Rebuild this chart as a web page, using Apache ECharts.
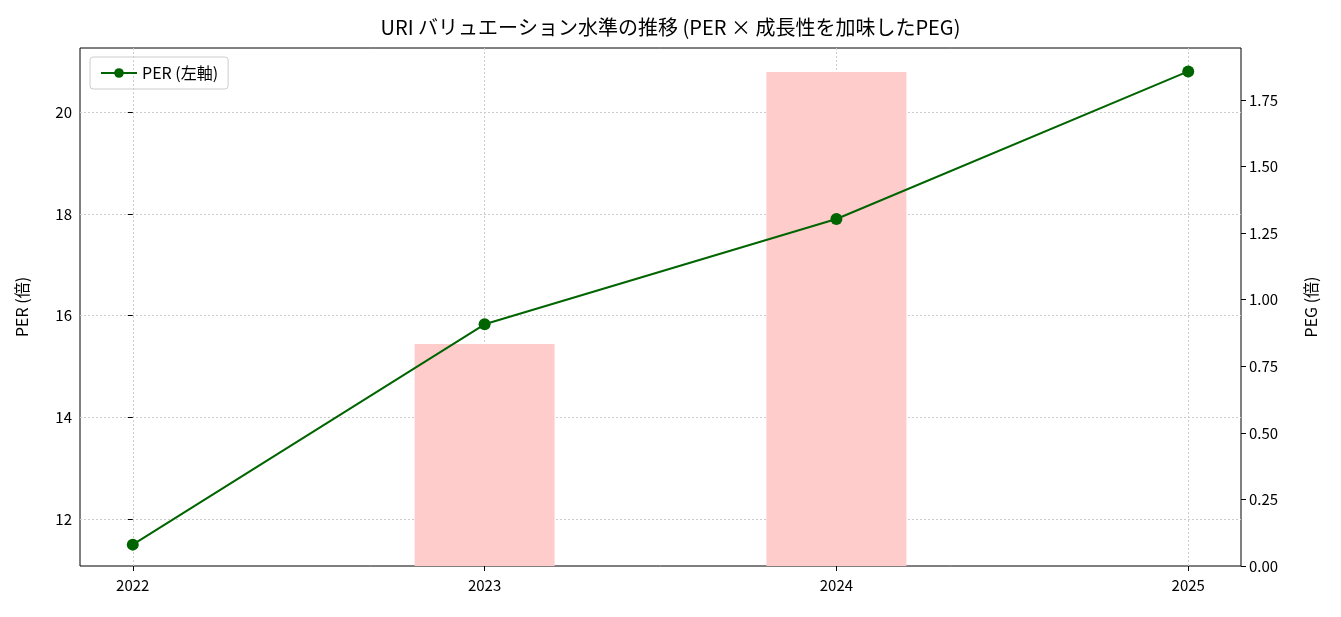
<!DOCTYPE html>
<html lang="ja">
<head>
<meta charset="UTF-8">
<title>URI PER PEG</title>
<style>
  * { margin: 0; }
  body { background: #fff; }
  #main { width: 1341px; height: 617px; }
</style>
<script src="https://cdn.jsdelivr.net/npm/echarts@6/dist/echarts.min.js"></script>
</head>
<body>
<div id="main"></div>
<script>
var years = ['2022', '2023', '2024', '2025'];
var perValues = [11.5, 15.83, 17.9, 20.8];
var pegValues = [null, 0.834, 1.855, null];
var perTicks = [12, 14, 16, 18, 20];
var pegTicks = [0, 0.25, 0.5, 0.75, 1, 1.25, 1.5, 1.75];

var font = '"Noto Sans CJK JP", "DejaVu Sans", sans-serif';
var chart = echarts.init(document.getElementById('main'));

var perData = perValues.map(function (v, i) { return [i, v]; });
var pegData = [];
pegValues.forEach(function (v, i) { if (v !== null) pegData.push([i, v]); });

chart.setOption({
  animation: false,
  textStyle: { fontFamily: font },
  title: {
    text: 'URI バリュエーション水準の推移 (PER × 成長性を加味したPEG)',
    left: 'center', top: 12,
    textStyle: { fontFamily: font, fontSize: 20, fontWeight: 'normal', color: '#000' }
  },
  legend: {
    left: 90, top: 57,
    padding: [8, 10],
    borderColor: '#ccc', borderWidth: 1, borderRadius: 3,
    itemWidth: 36, itemHeight: 12,
    textStyle: { fontFamily: font, fontSize: 16, color: '#000' },
    data: ['PER (左軸)']
  },
  grid: {
    left: 80, right: 100, top: 48, bottom: 51,
    show: true, borderColor: '#000', borderWidth: 1
  },
  xAxis: {
    type: 'value', min: -0.15, max: 3.15,
    axisLine: { show: false },
    axisTick: { customValues: [0, 1, 2, 3], length: 5, lineStyle: { color: '#000' } },
    axisLabel: {
      customValues: [0, 1, 2, 3], color: '#000', fontSize: 15, margin: 12,
      formatter: function (v) { return years[Math.round(v)]; }
    },
    splitLine: { show: true, lineStyle: { color: '#ccc', type: [2, 2] } }
  },
  yAxis: [{
    type: 'value', min: 11.08, max: 21.26,
    name: 'PER (倍)', nameLocation: 'middle', nameGap: 50,
    nameTextStyle: { fontSize: 16, color: '#000' },
    axisLine: { show: false },
    axisTick: { customValues: perTicks, length: 5, lineStyle: { color: '#000' } },
    axisLabel: { customValues: perTicks, color: '#000', fontSize: 15 },
    splitLine: { show: true, lineStyle: { color: '#ccc', type: [2, 2] } }
  }, {
    type: 'value', min: 0, max: 1.945, position: 'right',
    name: 'PEG (倍)', nameLocation: 'middle', nameGap: 62, nameRotate: 90,
    nameTextStyle: { fontSize: 16, color: '#000' },
    axisLine: { show: false },
    axisTick: { show: true, customValues: pegTicks, length: 5, lineStyle: { color: '#000' } },
    axisLabel: {
      customValues: pegTicks, color: '#000', fontSize: 15,
      formatter: function (v) { return v.toFixed(2); }
    },
    splitLine: { show: false }
  }],
  series: [{
    name: 'PEG', type: 'bar', yAxisIndex: 1, z: 1,
    barWidth: 140,
    itemStyle: { color: '#ffcccc' },
    data: pegData
  }, {
    name: 'PER (左軸)', type: 'line', yAxisIndex: 0, z: 5,
    symbol: 'circle', symbolSize: 12,
    lineStyle: { color: '#006400', width: 2 },
    itemStyle: { color: '#006400' },
    data: perData
  }]
});
</script>
</body>
</html>
